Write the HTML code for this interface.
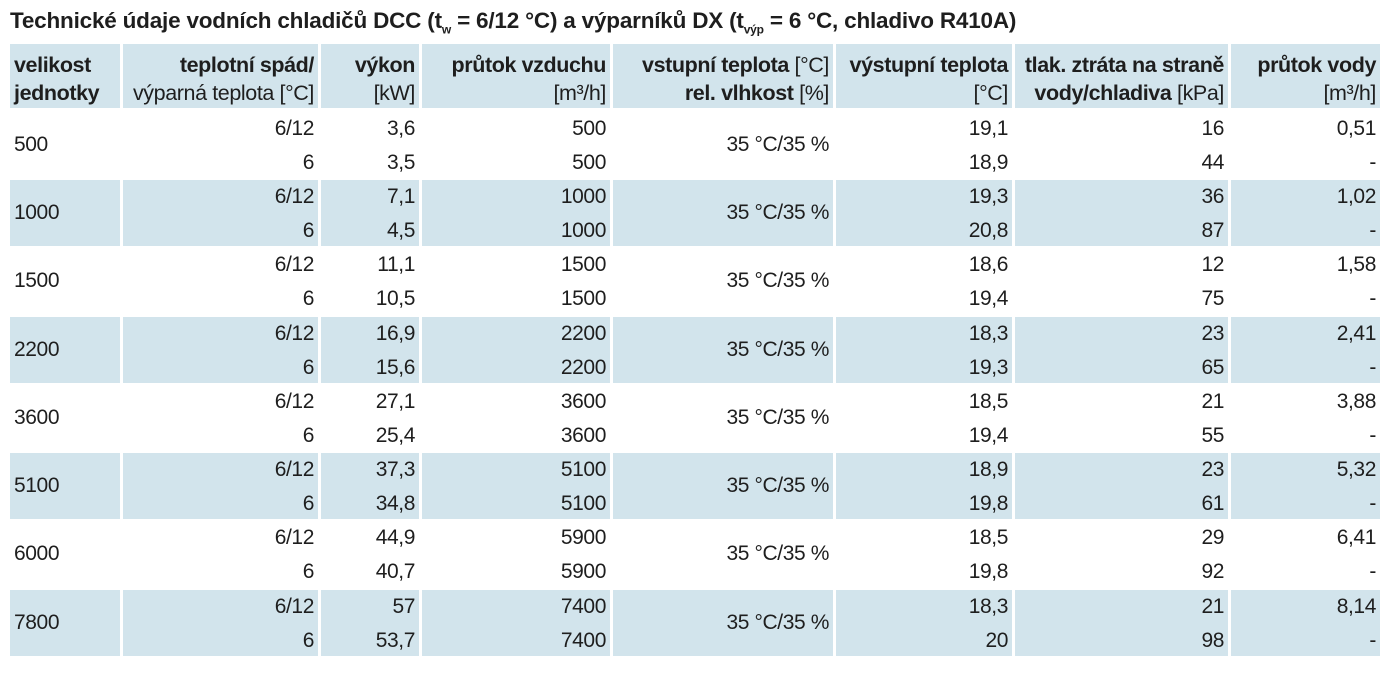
<!DOCTYPE html>
<html><head><meta charset="utf-8"><style>
body{margin:0;width:1385px;height:673px;background:#fff;font-family:"Liberation Sans",sans-serif;color:#1e1e1e;position:relative;overflow:hidden}
.t{position:absolute;left:10px;top:8px;font-size:22.5px;font-weight:bold;letter-spacing:-0.2px;white-space:nowrap}
.t sub{font-size:12px}
.c{position:absolute;box-sizing:border-box;padding-right:4px;text-align:right;font-size:21px;letter-spacing:-0.4px;white-space:nowrap}
.h{background:#d2e4ec;top:44px;height:64px;line-height:28px;padding-top:7px;font-weight:bold;font-size:21.5px}
.h span{font-weight:normal}
.c1{left:10px;width:110px;text-align:left;padding-left:4px}
.c2{left:123px;width:195px}.c3{left:321px;width:98px}.c4{left:422px;width:188px}
.c5{left:613px;width:220px}.c6{left:836px;width:176px}.c7{left:1015px;width:213px}.c8{left:1231px;width:149px}
.g{position:absolute;left:0;width:1385px;height:66px}
.g .c{top:0;height:66px;line-height:34px}
.s .c{background:#d2e4ec}
.g .c1,.g .c5{line-height:66px}
.g .c5{padding-right:4px}
</style></head><body>
<div class="t">Technické údaje vodních chladičů DCC (t<sub>w</sub> = 6/12 °C) a výparníků DX (t<sub>výp</sub> = 6 °C, chladivo R410A)</div>
<div class="c h c1" style="text-align:left">velikost<br>jednotky</div>
<div class="c h c2">teplotní spád/<br><span>výparná teplota [°C]</span></div>
<div class="c h c3">výkon<br><span>[kW]</span></div>
<div class="c h c4">průtok vzduchu<br><span>[m³/h]</span></div>
<div class="c h c5">vstupní teplota <span>[°C]</span><br>rel. vlhkost <span>[%]</span></div>
<div class="c h c6">výstupní teplota<br><span>[°C]</span></div>
<div class="c h c7">tlak. ztráta na straně<br>vody/chladiva <span>[kPa]</span></div>
<div class="c h c8">průtok vody<br><span>[m³/h]</span></div>

<div class="g" style="top:112px"><div class="c c1">500</div><div class="c c2">6/12<br>6</div><div class="c c3">3,6<br>3,5</div><div class="c c4">500<br>500</div><div class="c c5">35 °C/35 %</div><div class="c c6">19,1<br>18,9</div><div class="c c7">16<br>44</div><div class="c c8">0,51<br>-</div></div>
<div class="g s" style="top:180px"><div class="c c1">1000</div><div class="c c2">6/12<br>6</div><div class="c c3">7,1<br>4,5</div><div class="c c4">1000<br>1000</div><div class="c c5">35 °C/35 %</div><div class="c c6">19,3<br>20,8</div><div class="c c7">36<br>87</div><div class="c c8">1,02<br>-</div></div>
<div class="g" style="top:248px"><div class="c c1">1500</div><div class="c c2">6/12<br>6</div><div class="c c3">11,1<br>10,5</div><div class="c c4">1500<br>1500</div><div class="c c5">35 °C/35 %</div><div class="c c6">18,6<br>19,4</div><div class="c c7">12<br>75</div><div class="c c8">1,58<br>-</div></div>
<div class="g s" style="top:317px"><div class="c c1">2200</div><div class="c c2">6/12<br>6</div><div class="c c3">16,9<br>15,6</div><div class="c c4">2200<br>2200</div><div class="c c5">35 °C/35 %</div><div class="c c6">18,3<br>19,3</div><div class="c c7">23<br>65</div><div class="c c8">2,41<br>-</div></div>
<div class="g" style="top:385px"><div class="c c1">3600</div><div class="c c2">6/12<br>6</div><div class="c c3">27,1<br>25,4</div><div class="c c4">3600<br>3600</div><div class="c c5">35 °C/35 %</div><div class="c c6">18,5<br>19,4</div><div class="c c7">21<br>55</div><div class="c c8">3,88<br>-</div></div>
<div class="g s" style="top:453px"><div class="c c1">5100</div><div class="c c2">6/12<br>6</div><div class="c c3">37,3<br>34,8</div><div class="c c4">5100<br>5100</div><div class="c c5">35 °C/35 %</div><div class="c c6">18,9<br>19,8</div><div class="c c7">23<br>61</div><div class="c c8">5,32<br>-</div></div>
<div class="g" style="top:521px"><div class="c c1">6000</div><div class="c c2">6/12<br>6</div><div class="c c3">44,9<br>40,7</div><div class="c c4">5900<br>5900</div><div class="c c5">35 °C/35 %</div><div class="c c6">18,5<br>19,8</div><div class="c c7">29<br>92</div><div class="c c8">6,41<br>-</div></div>
<div class="g s" style="top:590px"><div class="c c1">7800</div><div class="c c2">6/12<br>6</div><div class="c c3">57<br>53,7</div><div class="c c4">7400<br>7400</div><div class="c c5">35 °C/35 %</div><div class="c c6">18,3<br>20</div><div class="c c7">21<br>98</div><div class="c c8">8,14<br>-</div></div>
</body></html>
